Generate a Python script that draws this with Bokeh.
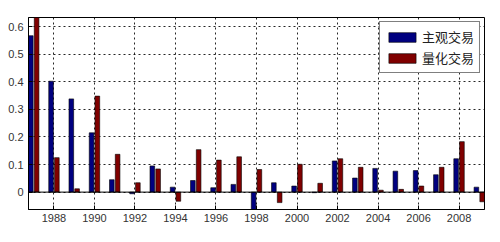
from bokeh.plotting import figure
from bokeh.models import ColumnDataSource, FixedTicker, CustomJSTickFormatter, Span, Legend, LegendItem, Range1d
from bokeh.transform import dodge
from bokeh.embed import file_html
from bokeh.resources import INLINE

years = list(range(1987, 2010))
subjective = [0.567, 0.402, 0.338, 0.215, 0.045, -0.006, 0.095, 0.018, 0.042, 0.016, 0.028, -0.075,
              0.034, 0.022, -0.002, 0.113, 0.051, 0.086, 0.076, 0.078, 0.063, 0.121, 0.018]
quant = [0.66, 0.125, 0.012, 0.348, 0.137, 0.034, 0.084, -0.033, 0.154, 0.116, 0.128, 0.082,
         -0.038, 0.101, 0.032, 0.121, 0.090, 0.007, 0.010, 0.022, 0.090, 0.183, -0.035]
series_names = ["主观交易", "量化交易"]
colors = ["#000080", "#800000"]
x_ticks = list(range(1988, 2009, 2))
y_ticks = [0, 0.1, 0.2, 0.3, 0.4, 0.5, 0.6]

src = ColumnDataSource(dict(year=years, s=subjective, q=quant))

p = figure(width=500, height=242, output_backend="svg", toolbar_location=None,
           x_range=Range1d(1986.743, 2009.257), y_range=Range1d(-0.063, 0.633),
           min_border_left=28, min_border_right=16, min_border_top=17, min_border_bottom=33)
p.background_fill_color = "white"
p.border_fill_color = "white"
p.outline_line_color = "black"
p.outline_line_width = 1

bw = 0.229
r1 = p.vbar(x=dodge("year", -0.143, range=p.x_range), top="s", bottom=0, width=bw, source=src,
            fill_color=colors[0], line_color="black", line_width=0.6)
r2 = p.vbar(x=dodge("year", 0.143, range=p.x_range), top="q", bottom=0, width=bw, source=src,
            fill_color=colors[1], line_color="black", line_width=0.6)

p.add_layout(Span(location=0, dimension="width", line_color="black", line_width=1))

p.xaxis.ticker = FixedTicker(ticks=x_ticks)
p.yaxis.ticker = FixedTicker(ticks=y_ticks)
p.yaxis.formatter = CustomJSTickFormatter(code="return Math.abs(tick) < 1e-9 ? '0' : tick.toFixed(1);")
for ax in (p.xaxis, p.yaxis):
    ax.major_tick_in = 4
    ax.major_tick_out = 0
    ax.minor_tick_line_color = None
    ax.axis_line_color = "black"
    ax.major_tick_line_color = "black"
    ax.major_label_text_font = "Liberation Sans"
    ax.major_label_text_font_size = "11px"
    ax.major_label_text_color = "#333333"
p.xaxis.major_label_standoff = 4
p.yaxis.major_label_standoff = 5

p.xgrid.ticker = FixedTicker(ticks=x_ticks)
p.ygrid.ticker = FixedTicker(ticks=y_ticks)
for g in (p.xgrid, p.ygrid):
    g.grid_line_color = "black"
    g.grid_line_dash = "2 3"
    g.grid_line_alpha = 0.85
    g.grid_line_width = 1

legend = Legend(items=[LegendItem(label=series_names[0], renderers=[r1]),
                       LegendItem(label=series_names[1], renderers=[r2])],
                location="top_right")
legend.label_text_font = "Noto Sans CJK SC"
legend.label_text_font_size = "13px"
legend.label_text_color = "#222222"
legend.border_line_color = "black"
legend.border_line_width = 1
legend.background_fill_color = "white"
legend.background_fill_alpha = 1
legend.glyph_width = 34
legend.glyph_height = 12
legend.label_height = 12
legend.spacing = 2
legend.padding = 5
legend.margin = 4
legend.label_standoff = 3
p.add_layout(legend)

open("out.html", "w").write(file_html(p, INLINE))
